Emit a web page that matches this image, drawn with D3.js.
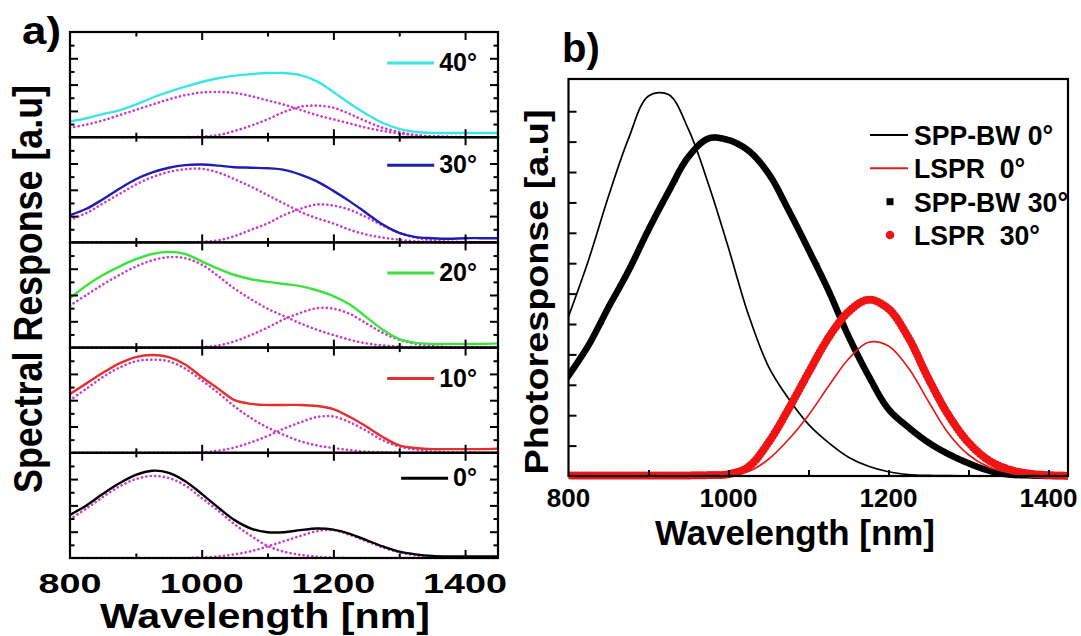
<!DOCTYPE html>
<html><head><meta charset="utf-8">
<script src="https://cdn.jsdelivr.net/npm/d3@7"></script>
<style>
body{margin:0;background:#fff;}
text{font-family:"Liberation Sans",Arial,sans-serif;font-weight:bold;fill:#000;}
</style>
</head><body>
<svg id="c" width="1081" height="636"></svg>
<script>
// ---------------- DATA ----------------
const wavelengths = [800,825,850,875,900,925,950,975,1000,1025,1050,1075,1100,1125,1150,1175,1200,1225,1250,1275,1300,1325,1350,1375,1400,1425,1450];

// panel a: angles top to bottom
const angleLabels = ["40°","30°","20°","10°","0°"];

const solid40 = [0.15,0.18,0.22,0.255,0.31,0.375,0.43,0.48,0.525,0.56,0.585,0.60,0.61,0.61,0.59,0.53,0.43,0.32,0.22,0.135,0.08,0.05,0.04,0.04,0.04,0.04,0.04];
const spp40   = [0.09,0.12,0.16,0.21,0.26,0.31,0.36,0.40,0.425,0.43,0.42,0.39,0.35,0.31,0.26,0.21,0.17,0.13,0.09,0.06,0.035,0.018,0.008,0.003,0,0,0];
const lspr40  = [0,0,0,0,0,0,0,0,0.005,0.02,0.06,0.11,0.17,0.24,0.29,0.30,0.28,0.22,0.15,0.09,0.05,0.02,0.008,0.003,0,0,0];

const solid30 = [0.26,0.32,0.41,0.51,0.60,0.665,0.71,0.735,0.74,0.73,0.715,0.71,0.705,0.69,0.645,0.58,0.49,0.39,0.28,0.17,0.09,0.05,0.04,0.035,0.04,0.04,0.04];
const spp30   = [0.215,0.28,0.37,0.46,0.55,0.62,0.67,0.695,0.70,0.665,0.60,0.53,0.45,0.37,0.29,0.23,0.18,0.12,0.075,0.045,0.025,0.01,0.004,0,0,0,0];
const lspr30  = [0,0,0,0,0,0,0,0,0.005,0.02,0.06,0.12,0.18,0.26,0.32,0.36,0.35,0.31,0.24,0.16,0.09,0.045,0.02,0.008,0.003,0,0];

const solid20 = [0.47,0.59,0.69,0.77,0.84,0.89,0.91,0.89,0.82,0.75,0.69,0.65,0.625,0.605,0.585,0.545,0.49,0.41,0.29,0.17,0.08,0.045,0.035,0.035,0.035,0.035,0.04];
const spp20   = [0.40,0.50,0.60,0.69,0.77,0.83,0.86,0.85,0.79,0.68,0.56,0.46,0.37,0.30,0.23,0.17,0.12,0.075,0.04,0.02,0.008,0.003,0,0,0,0,0];
const lspr20  = [0,0,0,0,0,0,0,0,0.005,0.02,0.06,0.12,0.19,0.27,0.33,0.375,0.37,0.32,0.23,0.14,0.075,0.035,0.015,0.005,0,0,0];

const solid10 = [0.56,0.66,0.76,0.85,0.91,0.93,0.91,0.84,0.72,0.61,0.50,0.465,0.455,0.455,0.455,0.445,0.415,0.34,0.25,0.15,0.07,0.045,0.035,0.035,0.035,0.035,0.04];
const spp10   = [0.50,0.61,0.72,0.81,0.87,0.885,0.87,0.80,0.69,0.57,0.44,0.33,0.24,0.17,0.11,0.07,0.045,0.025,0.01,0.005,0,0,0,0,0,0,0];
const lspr10  = [0,0,0,0,0,0,0,0,0.005,0.02,0.05,0.10,0.16,0.23,0.29,0.34,0.345,0.29,0.21,0.12,0.06,0.03,0.012,0.005,0.002,0,0];

const solid0  = [0.41,0.50,0.61,0.71,0.79,0.83,0.81,0.73,0.61,0.48,0.36,0.28,0.245,0.245,0.265,0.28,0.27,0.23,0.17,0.11,0.06,0.035,0.02,0.015,0.015,0.015,0.015];
const spp0    = [0.37,0.47,0.58,0.68,0.75,0.78,0.76,0.69,0.57,0.45,0.32,0.21,0.115,0.06,0.03,0.012,0.004,0,0,0,0,0,0,0,0,0,0];
const lspr0   = [0,0,0,0,0,0,0,0,0.005,0.015,0.035,0.065,0.11,0.16,0.21,0.255,0.265,0.22,0.16,0.10,0.055,0.025,0.01,0.004,0,0,0];

const solidSeries = [solid40, solid30, solid20, solid10, solid0];
const sppSeries   = [spp40, spp30, spp20, spp10, spp0];
const lsprSeries  = [lspr40, lspr30, lspr20, lspr10, lspr0];

// panel b
const legendB = ["SPP-BW 0°", "LSPR  0°", "SPP-BW 30°", "LSPR  30°"];
const sppbw0  = [5.25,7.1,9.2,11.1,12.5,12.55,11.4,9.6,7.5,5.3,3.6,2.55,1.7,1.1,0.62,0.32,0.14,0.05,0.02,0.01,0,0,0,0,0,0,0];
const lsprL0  = [0.02,0.02,0.02,0.02,0.02,0.02,0.02,0.02,0.05,0.15,0.55,1.2,2.0,2.95,3.85,4.4,4.28,3.55,2.45,1.4,0.7,0.3,0.12,0.04,0.02,0.01,0.01];
const sppbw30 = [3.3,4.3,5.55,6.75,8.1,9.35,10.5,11.1,11.05,10.7,9.95,8.75,7.45,6.1,4.6,3.3,2.2,1.6,1.1,0.72,0.42,0.18,0.05,0.02,0,0,0];
const lsprL30 = [0.02,0.02,0.02,0.02,0.02,0.02,0.02,0.03,0.06,0.3,1.1,2.2,3.4,4.55,5.4,5.8,5.5,4.55,3.2,2.0,1.1,0.52,0.22,0.08,0.03,0.01,0.01];

// ticks
const xTicksA = [900,1000,1100,1200,1300,1400];
const xMajorA = [1000,1200,1400];
const xLabelsA = [800,1000,1200,1400];
const yMinorA = [0.125,0.375,0.625,0.875];
const yMajorA = [0.25,0.5,0.75];
const xTicksB = [900,1000,1100,1200,1300,1400];
const xLabelsB = [800,1000,1200,1400];
const yTicksB = [1,2,3,4,5,6,7,8,9,10,11,12];

// ---------------- STYLE / LAYOUT ----------------
const angleColors = ["#3ce4e4","#1e1eb0","#3ee23e","#e2302c","#000000"];
const dotColor = "#c83cc8";
const legendDy = [31, 28, 30.5, 31, 25.5];
const curve = d3.curveCatmullRom.alpha(0.5);

const svg = d3.select("#c");
const defs = svg.append("defs");

// ---------- Panel a ----------
const aL = 70, aR = 498, aTop = 32, aBot = 558;
const nP = 5, pH = (aBot - aTop) / nP;
const xA = d3.scaleLinear().domain([800,1450]).range([aL, aR]);

for (let i = 0; i < nP; i++) {
  const top = aTop + i*pH, bot = top + pH;
  defs.append("clipPath").attr("id","clipA"+i).append("rect")
    .attr("x", aL).attr("y", top).attr("width", aR-aL).attr("height", pH + 1.5);
  const yA = d3.scaleLinear().domain([0,1]).range([bot, top]);
  const g = svg.append("g");
  const line = d3.line().x((d,j)=>xA(wavelengths[j])).y(d=>yA(d)).curve(curve);
  const gp = g.append("g").attr("clip-path",`url(#clipA${i})`);
  [sppSeries[i], lsprSeries[i]].forEach(s => {
    gp.append("path").attr("d", line(s)).attr("fill","none")
      .attr("stroke", dotColor).attr("stroke-width", 2.6)
      .attr("stroke-dasharray","0.1 4.3").attr("stroke-linecap","round");
  });
  gp.append("path").attr("d", line(solidSeries[i])).attr("fill","none")
    .attr("stroke", angleColors[i]).attr("stroke-width", 2.4);

  // ticks (inward) with d3 axes
  const mkX = (vals, len, orient, y) => {
    const ax = (orient==="bottom" ? d3.axisBottom(xA) : d3.axisTop(xA))
      .tickValues(vals).tickSize(-len).tickFormat("");
    const ga = g.append("g").attr("transform",`translate(0,${y})`).call(ax);
    ga.select(".domain").remove();
    ga.selectAll("line").attr("stroke","#000").attr("stroke-width",2);
  };
  const minorX = xTicksA.filter(v => !xMajorA.includes(v));
  mkX(xMajorA, 8, "bottom", bot); mkX(minorX, 4.5, "bottom", bot);
  mkX(xMajorA, 8, "top", top);    mkX(minorX, 4.5, "top", top);
  const mkY = (vals, len, orient, x) => {
    const ax = (orient==="left" ? d3.axisLeft(yA) : d3.axisRight(yA))
      .tickValues(vals).tickSize(-len).tickFormat("");
    const ga = g.append("g").attr("transform",`translate(${x},0)`).call(ax);
    ga.select(".domain").remove();
    ga.selectAll("line").attr("stroke","#000").attr("stroke-width",2);
  };
  mkY(yMajorA, 8, "left", aL); mkY(yMinorA, 4.5, "left", aL);
  mkY(yMajorA, 8, "right", aR); mkY(yMinorA, 4.5, "right", aR);

  // legend
  const ly = top + legendDy[i];
  const t = g.append("text").attr("x", 477).attr("y", ly + 8)
    .attr("text-anchor","end").attr("font-size", 25).text(angleLabels[i]);
  const tw = t.node().getComputedTextLength();
  const tx = 477 - tw;
  g.append("line").attr("x1", tx - 52).attr("x2", tx - 5)
    .attr("y1", ly).attr("y2", ly).attr("stroke", angleColors[i]).attr("stroke-width", 3);
}
// frames
for (let i = 0; i < nP; i++) {
  svg.append("rect").attr("x", aL).attr("y", aTop + i*pH).attr("width", aR-aL).attr("height", pH)
    .attr("fill","none").attr("stroke","#000").attr("stroke-width",2.2);
}
// x labels panel a
svg.append("g").selectAll("text").data(xLabelsA).join("text")
  .attr("x", d => xA(d)).attr("y", 593).attr("text-anchor","middle")
  .attr("font-size", 28).attr("textLength", d => String(d).length*21)
  .attr("lengthAdjust","spacingAndGlyphs").text(d => d);
svg.append("text").attr("x", 265).attr("y", 628).attr("text-anchor","middle")
  .attr("font-size", 35).attr("textLength", 330).attr("lengthAdjust","spacingAndGlyphs")
  .text("Wavelength [nm]");
svg.append("text").attr("transform","translate(42,289) rotate(-90)").attr("text-anchor","middle")
  .attr("font-size", 41).attr("textLength", 408).attr("lengthAdjust","spacingAndGlyphs")
  .text("Spectral Response [a.u]");
svg.append("text").attr("x", 22).attr("y", 44).attr("font-size", 39)
  .attr("textLength", 39).attr("lengthAdjust","spacingAndGlyphs").text("a)");

// ---------- Panel b ----------
const bL = 568.5, bR = 1068, bTop = 79, bBot = 476;
const xB = d3.scaleLinear().domain([800,1424.4]).range([bL, bR]);
const yB = d3.scaleLinear().domain([0,13.06]).range([bBot, bTop]);
defs.append("clipPath").attr("id","clipB").append("rect")
  .attr("x", bL).attr("y", bTop).attr("width", bR-bL).attr("height", bBot-bTop+6);
const lineB = d3.line().x((d,j)=>xB(wavelengths[j])).y(d=>yB(d)).curve(curve);
const gb = svg.append("g").attr("clip-path","url(#clipB)");
gb.append("path").attr("d", lineB(sppbw0)).attr("fill","none").attr("stroke","#000").attr("stroke-width",1.7);
gb.append("path").attr("d", lineB(sppbw30)).attr("fill","none").attr("stroke","#000")
  .attr("stroke-width",6.5).attr("stroke-dasharray","0.5 3").attr("stroke-linecap","square");
gb.append("path").attr("d", lineB(lsprL30)).attr("fill","none").attr("stroke","#ee1414")
  .attr("stroke-width",8).attr("stroke-dasharray","0 3.2").attr("stroke-linecap","round");
gb.append("path").attr("d", lineB(lsprL0)).attr("fill","none").attr("stroke","#e01c1c").attr("stroke-width",1.7);

svg.append("rect").attr("x", bL).attr("y", bTop).attr("width", bR-bL).attr("height", bBot-bTop)
  .attr("fill","none").attr("stroke","#000").attr("stroke-width",2.2);
{
  const ga = svg.append("g").attr("transform",`translate(${bL},0)`)
    .call(d3.axisLeft(yB).tickValues(yTicksB).tickSize(-8).tickFormat(""));
  ga.select(".domain").remove(); ga.selectAll("line").attr("stroke","#000").attr("stroke-width",2);
  const gx = svg.append("g").attr("transform",`translate(0,${bBot})`)
    .call(d3.axisBottom(xB).tickValues(xTicksB).tickSize(-6).tickFormat(""));
  gx.select(".domain").remove(); gx.selectAll("line").attr("stroke","#000").attr("stroke-width",2);
}
svg.append("g").selectAll("text").data(xLabelsB).join("text")
  .attr("x", d => xB(d)).attr("y", 506.5).attr("text-anchor","middle")
  .attr("font-size", 26).text(d => d);
svg.append("text").attr("x", 795).attr("y", 545).attr("text-anchor","middle")
  .attr("font-size", 35).attr("textLength", 280).attr("lengthAdjust","spacingAndGlyphs")
  .text("Wavelength [nm]");
svg.append("text").attr("transform","translate(548,292) rotate(-90)").attr("text-anchor","middle")
  .attr("font-size", 33).attr("textLength", 365).attr("lengthAdjust","spacingAndGlyphs")
  .text("Photoresponse [a.u]");
svg.append("text").attr("x", 562).attr("y", 62).attr("font-size", 40).text("b)");

// legend b
const rowsY = [135, 168.3, 201.7, 235];
const lg = svg.append("g");
lg.append("line").attr("x1",870).attr("x2",908).attr("y1",rowsY[0]).attr("y2",rowsY[0]).attr("stroke","#000").attr("stroke-width",2);
lg.append("line").attr("x1",870).attr("x2",908).attr("y1",rowsY[1]).attr("y2",rowsY[1]).attr("stroke","#e01c1c").attr("stroke-width",2);
lg.append("rect").attr("x",886.5).attr("y",rowsY[2]-3.5).attr("width",7).attr("height",7).attr("fill","#000");
lg.append("circle").attr("cx",890).attr("cy",rowsY[3]).attr("r",4.3).attr("fill","#ee1414");
legendB.forEach((s,k) => {
  const t = lg.append("text").attr("x",914).attr("y",rowsY[k]+10).attr("font-size",28)
    .attr("xml:space","preserve").style("white-space","pre").text(s);
  const w = t.node().getComputedTextLength();
  t.attr("textLength", w*0.95).attr("lengthAdjust","spacingAndGlyphs");
});
</script>
</body></html>
